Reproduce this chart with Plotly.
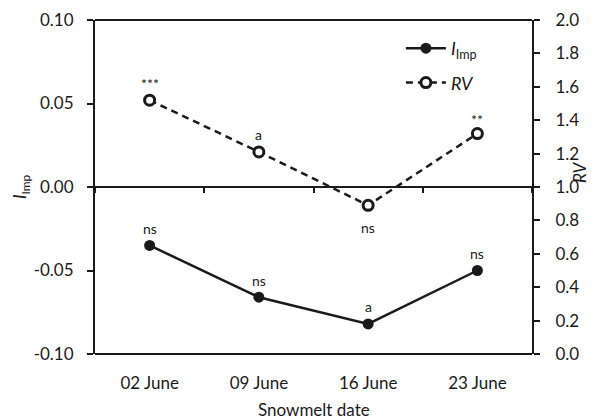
import plotly.graph_objects as go

dates = ["02 June", "09 June", "16 June", "23 June"]
i_imp = [-0.035, -0.066, -0.082, -0.050]
rv = [1.52, 1.21, 0.89, 1.32]
i_imp_sig = ["ns", "ns", "a", "ns"]
rv_sig = ["***", "a", "ns", "**"]
rv_sig_shift = [17, 17, -22, 14]
left_ticks = [-0.10, -0.05, 0.00, 0.05, 0.10]
right_ticks = [0.0, 0.2, 0.4, 0.6, 0.8, 1.0, 1.2, 1.4, 1.6, 1.8, 2.0]

ink = "#1a1a1a"
FONT = "Lato"

fig = go.Figure()
fig.add_trace(go.Scatter(
    x=dates, y=i_imp, xaxis="x", yaxis="y", mode="lines+markers",
    name="<i>I</i><sub>Imp</sub>", legendgroup="a",
    line=dict(color=ink, width=2.5),
    marker=dict(symbol="circle", size=11, color=ink),
))
fig.add_trace(go.Scatter(
    x=dates, y=rv, xaxis="x", yaxis="y2", mode="lines+markers",
    name="<i>RV</i>", legendgroup="b",
    line=dict(color=ink, width=2.5, dash="7px,5px"),
    marker=dict(symbol="circle", size=10, color="white", line=dict(color=ink, width=3)),
))

ann = []
for xi, yi, t in zip(dates, i_imp, i_imp_sig):
    ann.append(dict(x=xi, y=yi, xref="x", yref="y", text=t, showarrow=False,
                    yshift=17, font=dict(size=14, color=ink, family=FONT)))
for xi, yi, t, s in zip(dates, rv, rv_sig, rv_sig_shift):
    ann.append(dict(x=xi, y=yi, xref="x", yref="y2", text=t, showarrow=False,
                    yshift=s, font=dict(size=14, color=ink, family=FONT)))
ann.append(dict(x=0, y=0.5, xref="paper", yref="paper", text="<i>I</i><sub>Imp</sub>",
                xanchor="center", xshift=-74, textangle=-90, showarrow=False,
                font=dict(size=17, color=ink, family=FONT)))
ann.append(dict(x=1, y=0.545, xref="paper", yref="paper", text="<i>RV</i>",
                xanchor="center", xshift=48, textangle=-90, showarrow=False,
                font=dict(size=17, color=ink, family=FONT)))
ann.append(dict(x=0.5, y=0, xref="paper", yref="paper", text="Snowmelt date",
                xanchor="center", yanchor="middle", yshift=-55, showarrow=False,
                font=dict(size=17, color=ink, family=FONT)))

shapes = [
    dict(type="line", xref="paper", yref="paper", x0=0, x1=1, y0=0, y1=0,
         line=dict(color=ink, width=2)),
    dict(type="line", xref="paper", yref="paper", x0=0, x1=1, y0=1, y1=1,
         line=dict(color=ink, width=2)),
]

fig.update_layout(
    width=610, height=420,
    margin=dict(l=87, r=86, t=12, b=74),
    paper_bgcolor="white", plot_bgcolor="white",
    font=dict(family=FONT, size=17, color=ink),
    showlegend=True,
    legend=dict(x=0.70, y=0.97, xanchor="left", yanchor="top",
                bgcolor="rgba(0,0,0,0)", font=dict(size=18, color=ink, family=FONT),
                tracegroupgap=8, itemwidth=40),
    xaxis=dict(type="category", categoryorder="array", categoryarray=dates,
               range=[-0.5, 3.5], showgrid=False, zeroline=False,
               anchor="free", position=0.5, automargin=False,
               showline=True, linecolor=ink, linewidth=2,
               ticks="outside", tickson="boundaries", ticklen=5, tickwidth=1.5,
               tickcolor=ink, ticklabelstandoff=181),
    yaxis=dict(range=[-0.10, 0.10], tickvals=left_ticks,
               ticktext=[f"{v:.2f}" for v in left_ticks], showgrid=False, zeroline=False,
               showline=True, linecolor=ink, linewidth=2, ticks="outside", ticklen=6,
               tickwidth=1.5, tickcolor=ink, ticklabelstandoff=10, automargin=False),
    yaxis2=dict(range=[0.0, 2.0], tickvals=right_ticks,
                ticktext=[f"{v:.1f}" for v in right_ticks], overlaying="y", side="right",
                anchor="x", showgrid=False, zeroline=False, showline=True, linecolor=ink,
                linewidth=2, ticks="outside", ticklen=6, tickwidth=1.5, tickcolor=ink,
                ticklabelstandoff=12, automargin=False),
    annotations=ann,
    shapes=shapes,
)

fig.write_html("out.html")
